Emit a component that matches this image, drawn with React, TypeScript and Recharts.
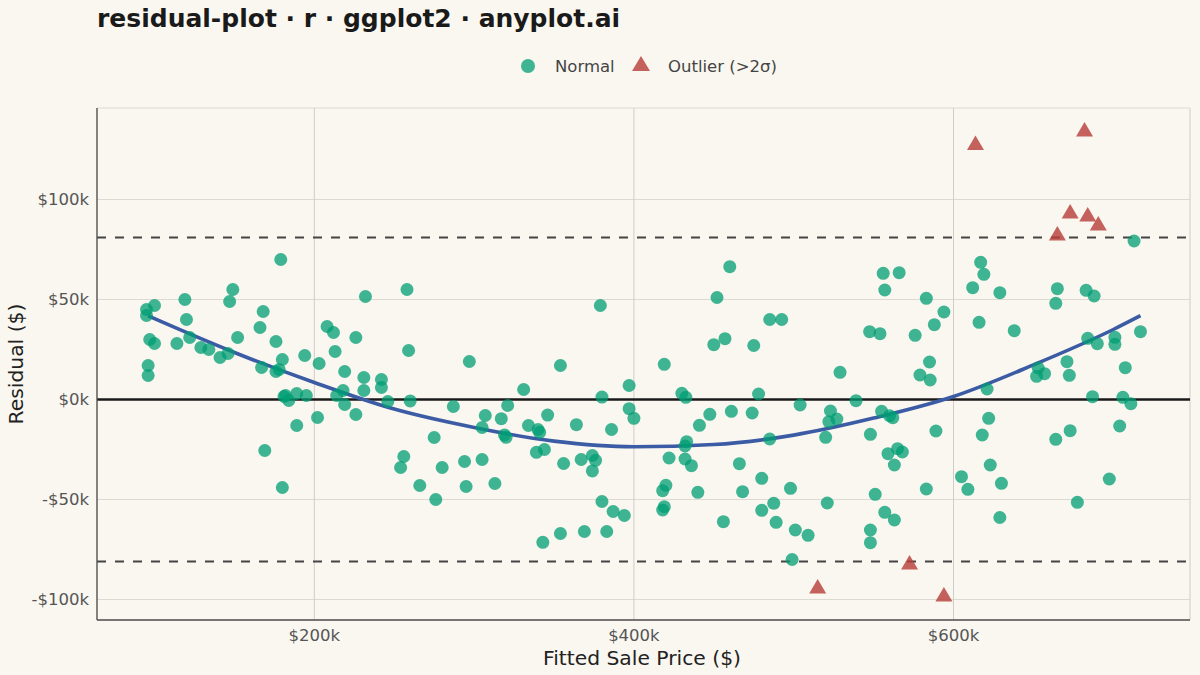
import {
  CartesianGrid,
  ComposedChart,
  Line,
  ReferenceLine,
  Scatter,
  XAxis,
  YAxis,
} from "recharts";

// fitted price and residual, both in $k
const normalX = [
  179, 149, 119, 147, 100, 95, 95, 168, 120, 166, 122, 152, 97, 100, 114, 176, 129, 134, 141, 146,
  180, 167, 176, 178, 96, 96, 181, 169, 180, 232, 258, 208, 212, 226, 213, 259, 194, 203, 297, 219,
  231, 242, 242, 231, 218, 214, 182, 189, 195, 184, 219, 246, 260, 287, 202, 189, 226, 275, 256, 254,
  280, 294, 266, 295, 276, 379, 354, 331, 397, 380, 321, 307, 317, 346, 397, 400, 305, 334, 340, 341,
  364, 386, 319, 320, 305, 339, 344, 356, 367, 374, 376, 374, 313, 380, 387, 394, 343, 354, 369, 383,
  460, 452, 485, 492.5, 450, 457, 475, 419, 529, 430, 432.5, 478, 504, 447.5, 461, 474, 441, 523, 522, 527,
  520, 433, 432, 485, 422, 432, 436, 466, 480, 498, 420, 418, 440, 468, 419, 418, 487.5, 480, 521, 456,
  489, 501, 509, 499, 617, 619, 556, 566, 557, 612, 629, 583, 594, 588, 616, 547.5, 554, 576, 585, 579,
  585.4, 621, 539, 555, 560, 562, 548, 589, 622, 618, 565, 559, 568, 563, 623, 605, 609, 583, 630, 551,
  557, 563, 548, 548, 629, 713, 665, 683, 688, 664, 638, 717, 684, 690, 701, 701, 671, 653, 657, 652,
  672.5, 707.5, 687, 706, 711, 704, 673, 664, 697.5, 677.5,
];
const normalY = [
  70, 55, 50, 49, 47, 45, 42, 44, 40, 36, 31, 31, 30, 28, 28, 29, 26, 25, 21, 23,
  20, 16, 14, 15, 17, 12, 1.5, -25.5, -44, 51.5, 55, 36.5, 33.5, 31, 24, 24.5, 22, 18, 19, 14,
  11, 10, 6, 4.5, 4.5, 2, 2, 3, 2, -0.5, -2.5, -1, -0.7, -3.5, -9, -13, -7.5, -19, -28.5, -34,
  -34, -31, -43, -43.5, -50, 47, 17, 5, 7, 1.2, -3, -8, -9.6, -7.8, -4.6, -9.4, -14, -13, -15, -16.4,
  -12.6, -15, -17.7, -18.9, -30, -26.4, -25, -32, -30, -28, -30.4, -35.7, -42, -51, -56, -58, -71.4, -67, -66, -66,
  66.4, 51, 40, 40, 27.4, 30.4, 27, 17.6, 13.6, 3.1, 1.1, 2.75, -2.75, -7.4, -5.9, -6.75, -12.9, -5.75, -11.1, -9.75,
  -18.9, -21.1, -23.25, -19.75, -29.25, -29.75, -33.1, -32.1, -39.4, -44.4, -42.9, -45.6, -46.4, -46.1, -53.6, -55.25, -51.9, -55.4, -51.75, -61.1,
  -61.4, -65.25, -67.9, -80, 68.6, 62.6, 63.1, 63.4, 54.75, 55.9, 53.4, 50.6, 43.75, 37.4, 38.6, 33.9, 32.9, 32.1, 18.75, 12.25,
  9.75, 5.25, -0.6, -5.9, -8.1, -9.1, -17.4, -15.75, -9.4, -17.75, -24.6, -27.1, -26.25, -32.75, -32.75, -38.6, -44.9, -44.75, -41.9, -47.4,
  -56.4, -60.25, -65.25, -71.6, -59, 79.25, 55.4, 54.6, 51.75, 48.1, 34.4, 33.9, 30.6, 27.9, 31.1, 27.6, 18.9, 15.75, 12.9, 11.6,
  12.1, 15.9, 1.4, 1.1, -2.1, -13.25, -15.6, -19.9, -39.75, -51.4,
];

const outlierX = [515, 572.5, 594, 613.75, 665, 673, 682, 684, 690.6];
const outlierY = [-93.75, -81.75, -97.75, 128, 82.75, 93.75, 134.75, 92.25, 87.75];

// smoothed trend
const trendX = [96, 150, 200, 250, 300, 350, 400, 450, 500, 550, 600, 650, 700, 717];
const trendY = [41.8, 23.5, 8.5, -4.8, -14, -20.8, -23.6, -22.5, -17.8, -9.3, 1.5, 17.3, 35, 41.9];

const sigmaBand = [81, -81];
const xTicks = [200, 400, 600];
const yTicks = [-100, -50, 0, 50, 100];

const normalPts = normalX.map((x, i) => ({ x, y: normalY[i] }));
const outlierPts = outlierX.map((x, i) => ({ x, y: outlierY[i] }));
const trendPts = trendX.map((x, i) => ({ x, y: trendY[i] }));

const BG = "#FAF7F0";
const FONT = "DejaVu Sans, sans-serif";
const GREEN = "#009E73";
const RED = "#B8403A";

const Dot = (props: any) => (
  <circle cx={props.cx} cy={props.cy} r={6.5} fill={GREEN} fillOpacity={0.75} />
);

const Tri = (props: any) => {
  const { cx, cy } = props;
  return (
    <polygon
      points={`${cx},${cy - 8} ${cx - 8.5},${cy + 6.5} ${cx + 8.5},${cy + 6.5}`}
      fill={RED}
      fillOpacity={0.82}
    />
  );
};

const fmt = (v: number) => (v < 0 ? `-$${Math.abs(v)}k` : `$${v}k`);

export default function App() {
  return (
    <div
      style={{
        position: "absolute",
        top: 0,
        left: 0,
        width: 1200,
        height: 675,
        background: BG,
        fontFamily: FONT,
      }}
    >
      <ComposedChart
        width={1200}
        height={675}
        margin={{ top: 108, right: 10, bottom: 25, left: 0 }}
        style={{ fontFamily: FONT }}
      >
        <CartesianGrid vertical={false} stroke="#DDDAD2" strokeWidth={1} />
        <CartesianGrid horizontal={false} stroke="#D0CDC6" strokeWidth={1} />
        <XAxis
          type="number"
          dataKey="x"
          domain={[64, 748]}
          ticks={xTicks}
          tickFormatter={fmt}
          allowDataOverflow
          height={30}
          tickLine={false}
          tickMargin={3}
          axisLine={{ stroke: "#4F4F4F", strokeWidth: 1.3 }}
          tick={{ fill: "#555", fontSize: 16.5 }}
        />
        <YAxis
          type="number"
          dataKey="y"
          domain={[-110.25, 145.75]}
          ticks={yTicks}
          tickFormatter={fmt}
          allowDataOverflow
          width={97}
          tickLine={false}
          axisLine={{ stroke: "#4F4F4F", strokeWidth: 1.3 }}
          tick={{ fill: "#555", fontSize: 16.5 }}
        />
        <ReferenceLine y={0} stroke="#1A1A1A" strokeWidth={2.6} />
        {sigmaBand.map((v) => (
          <ReferenceLine key={v} y={v} stroke="#444" strokeWidth={1.8} strokeDasharray="9 9" />
        ))}
        <Scatter data={normalPts} shape={Dot} isAnimationActive={false} />
        <Scatter data={outlierPts} shape={Tri} isAnimationActive={false} />
        <Line
          data={trendPts}
          dataKey="y"
          type="monotone"
          stroke="#3B5BA5"
          strokeWidth={3.6}
          dot={false}
          activeDot={false}
          isAnimationActive={false}
        />
      </ComposedChart>
      <svg
        width={1200}
        height={675}
        style={{ position: "absolute", top: 0, left: 0, pointerEvents: "none" }}
      >
        <text x={97} y={27} fontSize={25} fontWeight="bold" fill="#1A1A1A" fontFamily={FONT}>
          residual-plot · r · ggplot2 · anyplot.ai
        </text>
        <circle cx={528} cy={66} r={7} fill={GREEN} fillOpacity={0.75} />
        <text x={555} y={72} fontSize={16.5} fill="#444" fontFamily={FONT}>
          Normal
        </text>
        <polygon points="641,56 632,71 650,71" fill={RED} fillOpacity={0.82} />
        <text x={668} y={72} fontSize={16.5} fill="#444" fontFamily={FONT}>
          Outlier (&gt;2σ)
        </text>
        <text x={642} y={665} fontSize={20.3} fill="#222" textAnchor="middle" fontFamily={FONT}>
          Fitted Sale Price ($)
        </text>
        <text
          x={23}
          y={364}
          fontSize={20.3}
          fill="#222"
          textAnchor="middle"
          transform="rotate(-90 23 364)"
          fontFamily={FONT}
        >
          Residual ($)
        </text>
      </svg>
    </div>
  );
}
